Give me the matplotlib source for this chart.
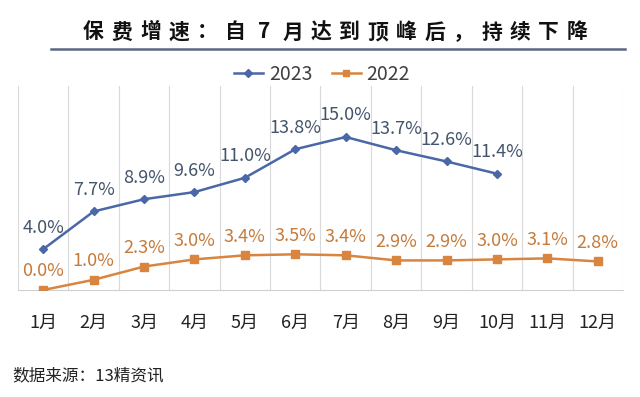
import matplotlib
matplotlib.use("Agg")
import matplotlib.pyplot as plt
from matplotlib.lines import Line2D

plt.rcParams['font.family'] = ['Noto Sans CJK SC', 'DejaVu Sans']

months = ["1月", "2月", "3月", "4月", "5月", "6月", "7月", "8月", "9月", "10月", "11月", "12月"]
y2023 = [4.0, 7.7, 8.9, 9.6, 11.0, 13.8, 15.0, 13.7, 12.6, 11.4]
y2022 = [0.0, 1.0, 2.3, 3.0, 3.4, 3.5, 3.4, 2.9, 2.9, 3.0, 3.1, 2.8]
title = "保费增速：自7月达到顶峰后，持续下降"
source = "数据来源：13精资讯"

c23 = "#4a67a8"
c22 = "#d9843f"
lab23 = "#44546a"
lab22 = "#c47b3c"

W, H = 640, 397
fig = plt.figure(figsize=(6.4, 3.97), dpi=100)
ax = fig.add_axes([18 / W, 1 - 290 / H, (623 - 18) / W, (290 - 86) / H])

x = list(range(len(months)))
ax.plot(x[:len(y2023)], y2023, color=c23, lw=1.8, marker="D", ms=4.5, zorder=3)
ax.plot(x, y2022, color=c22, lw=1.8, marker="s", ms=6, zorder=3)

for i, v in enumerate(y2023):
    ax.annotate(f"{v:.1f}%", (i, v), xytext=(0, 9), textcoords="offset points",
                ha="center", va="bottom", fontsize=13, color=lab23)
for i, v in enumerate(y2022):
    ax.annotate(f"{v:.1f}%", (i, v), xytext=(0, 7), textcoords="offset points",
                ha="center", va="bottom", fontsize=13, color=lab22)

ax.set_xlim(-0.5, len(months) - 0.5)
ax.set_ylim(0, 20)
ax.set_xticks(x)
ax.set_xticklabels(months, fontsize=13, color="#222222")
ax.set_yticks([])
ax.set_xticks([i + 0.5 for i in range(-1, len(months))], minor=True)
ax.grid(True, which="minor", axis="x", color="#d9d9d9", lw=0.8)
ax.tick_params(axis="x", which="both", length=0, pad=17)
for s in ["top", "left", "right"]:
    ax.spines[s].set_visible(False)
ax.spines["bottom"].set_color("#d0d0d0")

# title with spaced characters
x0, pitch = 85, 28.45
for k, ch in enumerate(title):
    fig.text((x0 + 8.5 + pitch * k) / W, 1 - 32 / H, ch, ha="center", va="center",
             fontsize=15, fontweight="bold", color="#111111")
fig.add_artist(Line2D([51 / W, 625 / W], [1 - 49 / H, 1 - 49 / H], color="#5a6884", lw=1.8))

handles = [Line2D([], [], color=c23, lw=1.8, marker="D", ms=4),
           Line2D([], [], color=c22, lw=1.8, marker="s", ms=5)]
fig.legend(handles, ["2023", "2022"], loc="center", bbox_to_anchor=(322 / W, 1 - 74 / H),
           ncol=2, frameon=False, fontsize=14, handlelength=1.5, handletextpad=0.3,
           columnspacing=1.0, labelcolor="#404040")

fig.text(12 / W, 1 - 376 / H, source, ha="left", va="center", fontsize=12, color="#222222")

fig.savefig("out.png", dpi=100, facecolor="white")
